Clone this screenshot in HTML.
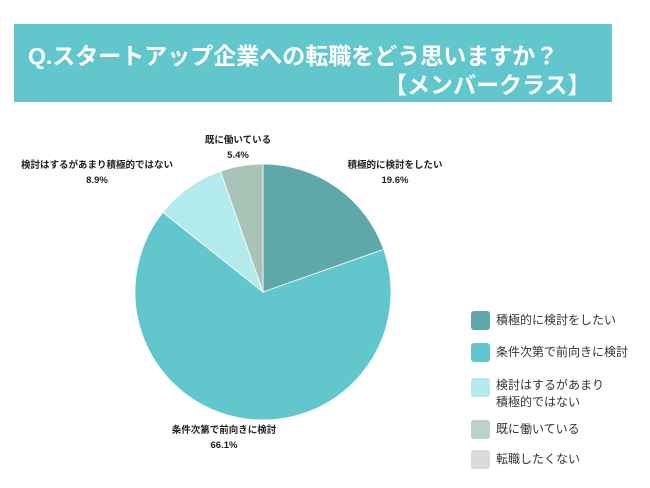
<!DOCTYPE html>
<html><head><meta charset="utf-8"><style>
body{margin:0;width:650px;height:488px;background:#fff;overflow:hidden;font-family:"Liberation Sans","Noto Sans CJK JP",sans-serif;}
#banner{position:absolute;left:14px;top:24px;width:598px;height:78px;background:#62c6cd;}
.t{position:absolute;color:#fff;font-weight:bold;font-size:23px;white-space:nowrap;}
.lg{position:absolute;left:471px;width:19px;height:19px;border-radius:3px;}
.lt{position:absolute;left:496px;font-size:12px;color:#333;line-height:17px;}
.pl{position:absolute;font-size:9.5px;font-weight:bold;color:#222;text-align:center;line-height:15px;white-space:nowrap;transform:translateX(-50%);}
</style></head><body>
<div id="banner"></div>
<div class="t" style="left:28px;top:37px;">Q.スタートアップ企業への転職をどう思いますか？</div>
<div class="t" style="left:384px;top:66px;">【メンバークラス】</div>
<svg id="pie" width="650" height="488" style="position:absolute;left:0;top:0"></svg>
<div class="pl" style="left:395px;top:158px">積極的に検討をしたい<br>19.6%</div>
<div class="pl" style="left:224px;top:423px">条件次第で前向きに検討<br>66.1%</div>
<div class="pl" style="left:97px;top:158px">検討はするがあまり積極的ではない<br>8.9%</div>
<div class="pl" style="left:238px;top:133px">既に働いている<br>5.4%</div>
<div class="lg" style="top:311px;background:#5fa8aa"></div>
<div class="lt" style="top:312px">積極的に検討をしたい</div>
<div class="lg" style="top:343px;background:#62c6cd"></div>
<div class="lt" style="top:344px">条件次第で前向きに検討</div>
<div class="lg" style="top:378px;background:#b2eaee"></div>
<div class="lt" style="top:377px">検討はするがあまり<br>積極的ではない</div>
<div class="lg" style="top:420px;background:#b9d3c8"></div>
<div class="lt" style="top:421px">既に働いている</div>
<div class="lg" style="top:450px;background:#dadada"></div>
<div class="lt" style="top:451px">転職したくない</div>
<script>
const categories=["積極的に検討をしたい","条件次第で前向きに検討","検討はするがあまり積極的ではない","既に働いている","転職したくない"];
const values=[19.6,66.1,8.9,5.4,0];
const colors=["#5fa8aa","#62c6cd","#b2eaee","#a9c3b6","#dadada"];
const svg=document.getElementById('pie');
const cx=263,cy=292,r=128;
const total=values.reduce((a,b)=>a+b,0);
let a0=0;
values.forEach((v,i)=>{
  if(v<=0)return;
  const a1=a0+v/total*2*Math.PI;
  const x0=cx+r*Math.sin(a0),y0=cy-r*Math.cos(a0),x1=cx+r*Math.sin(a1),y1=cy-r*Math.cos(a1);
  const p=document.createElementNS('http://www.w3.org/2000/svg','path');
  p.setAttribute('d',`M${cx},${cy}L${x0},${y0}A${r},${r} 0 ${a1-a0>Math.PI?1:0} 1 ${x1},${y1}Z`);
  p.setAttribute('fill',colors[i]);
  p.setAttribute('stroke','#fff');p.setAttribute('stroke-width','0.8');
  
  
  svg.appendChild(p);
  a0=a1;
});
</script>
</body></html>
